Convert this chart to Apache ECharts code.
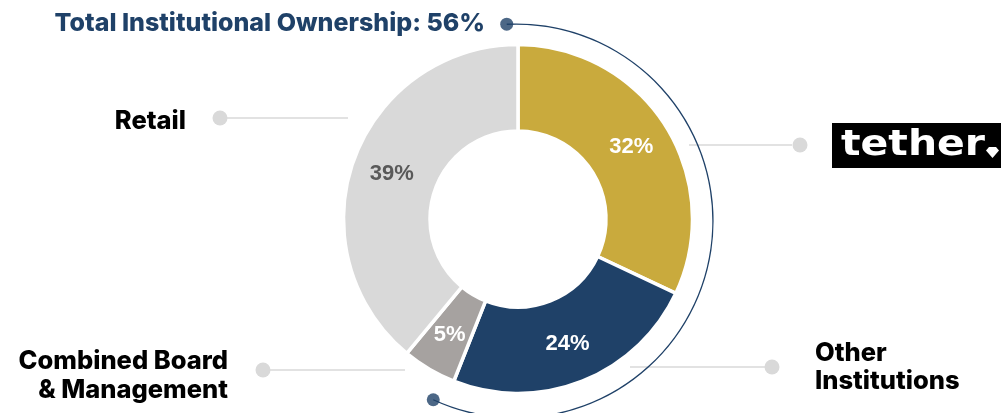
<!DOCTYPE html>
<html>
<head>
<meta charset="utf-8">
<script src="https://cdn.jsdelivr.net/npm/echarts@6/dist/echarts.min.js"></script>
<style>
  html, body { margin: 0; padding: 0; background: #ffffff; }
  #chart { width: 1001px; height: 413px; }
</style>
</head>
<body>
<div id="chart"></div>
<script>
// ---- data ----
const CATEGORIES = ['Tether', 'Other Institutions', 'Combined Board & Management', 'Retail'];
const VALUES = [32, 24, 5, 39];
const INSTITUTIONAL = ['Tether', 'Other Institutions'];
const TITLE_TEXT = 'Total Institutional Ownership';
const LOGO_TEXT = 'tether';
const LABEL_LINES = {
  'Other Institutions': 'Other\nInstitutions',
  'Combined Board & Management': 'Combined Board\n& Management',
  'Retail': 'Retail'
};

// ---- styles ----
const SLICE_COLORS = ['#C9AA3D', '#1F4168', '#A6A2A0', '#D9D9D9'];
const SLICE_LABEL_COLORS = ['#FFFFFF', '#FFFFFF', '#FFFFFF', '#595959'];
const NAVY = '#1F4168';
const LEADER = '#D9D9D9';
const NAME_FONT = 'Inter, "Liberation Sans", sans-serif';

const instTotal = CATEGORIES.reduce((s, c, i) => s + (INSTITUTIONAL.includes(c) ? VALUES[i] : 0), 0);
const total = VALUES.reduce((a, b) => a + b, 0);
const instPct = Math.round(instTotal / total * 100);

// arc extends a little beyond the institutional span to reach its end dots
const ARC_PAD_START = 0.75, ARC_PAD_END = 0.9;
const arcValue = instPct + ARC_PAD_START + ARC_PAD_END;

const chart = echarts.init(document.getElementById('chart'), null, { renderer: 'canvas' });

function leader(x1, x2, y, dotX) {
  return [
    { type: 'line', silent: true, shape: { x1: x1, y1: y, x2: x2, y2: y }, style: { stroke: LEADER, lineWidth: 1.5 } },
    { type: 'circle', silent: true, shape: { cx: dotX, cy: y, r: 7.5 }, style: { fill: LEADER } }
  ];
}

const graphics = [].concat(
  leader(227, 348, 118, 220),
  leader(689, 792, 145, 800),
  leader(630, 765, 367, 772),
  leader(270, 405, 370, 263),
  [
    { type: 'text', silent: true, x: 485, y: 23,
      style: { text: TITLE_TEXT + ': ' + instPct + '%', fill: NAVY, font: '800 25px ' + NAME_FONT, textAlign: 'right', textVerticalAlign: 'middle' } },
    { type: 'text', silent: true, x: 186, y: 121,
      style: { text: LABEL_LINES['Retail'], fill: '#000', font: '800 25.5px ' + NAME_FONT, textAlign: 'right', textVerticalAlign: 'middle' } },
    { type: 'text', silent: true, x: 228, y: 376,
      style: { text: LABEL_LINES['Combined Board & Management'], fill: '#000', font: '800 25.5px ' + NAME_FONT, lineHeight: 29, textAlign: 'right', textVerticalAlign: 'middle' } },
    { type: 'text', silent: true, x: 815, y: 367,
      style: { text: LABEL_LINES['Other Institutions'], fill: '#000', font: '800 25.5px ' + NAME_FONT, lineHeight: 28, textAlign: 'left', textVerticalAlign: 'middle' } },
    { type: 'rect', silent: true, shape: { x: 832, y: 123, width: 169, height: 45 }, style: { fill: '#000' } },
    { type: 'text', silent: true, x: 841, y: 146, scaleX: 1.17, scaleY: 1,
      style: { text: LOGO_TEXT, fill: '#fff', font: 'bold 35px "DejaVu Sans", sans-serif', textAlign: 'left', textVerticalAlign: 'middle' } },
    { type: 'polygon', silent: true, shape: { points: [[986, 150.5], [989, 147], [996, 147], [999, 150.5], [992.5, 158]] }, style: { fill: '#fff' } }
  ]
);

const option = {
  animation: false,
  backgroundColor: '#ffffff',
  polar: { center: [516, 221], radius: 197 },
  angleAxis: { type: 'value', min: 0, max: 100, startAngle: 90, clockwise: true, show: false },
  radiusAxis: { type: 'value', min: 0, max: 1, show: false },
  series: [
    {
      type: 'pie',
      center: [518, 219],
      radius: [88, 174.5],
      startAngle: 90,
      clockwise: true,
      silent: true,
      avoidLabelOverlap: false,
      itemStyle: { borderColor: '#ffffff', borderWidth: 3.5 },
      label: {
        show: true, position: 'inside', formatter: '{c}%',
        fontFamily: '"Liberation Sans", Arial, sans-serif', fontWeight: 'bold', fontSize: 22
      },
      labelLine: { show: false },
      emphasis: { disabled: true },
      data: CATEGORIES.map((c, i) => ({
        name: c, value: VALUES[i],
        itemStyle: { color: SLICE_COLORS[i] },
        label: { color: SLICE_LABEL_COLORS[i] }
      }))
    },
    {
      type: 'pie',
      center: [516, 221],
      radius: [196.3, 197.6],
      startAngle: 90 + ARC_PAD_START * 3.6,
      clockwise: true,
      silent: true,
      label: { show: false },
      labelLine: { show: false },
      emphasis: { disabled: true },
      data: [
        { name: 'inst', value: arcValue, itemStyle: { color: NAVY } },
        { name: 'rest', value: 100 - arcValue, itemStyle: { color: 'rgba(0,0,0,0)' } }
      ]
    },
    {
      type: 'scatter',
      coordinateSystem: 'polar',
      silent: true,
      symbol: 'circle',
      symbolSize: 13,
      itemStyle: { color: NAVY },
      data: [[1, 100 - ARC_PAD_START], [1, instPct + ARC_PAD_END]]
    }
  ],
  graphic: graphics
};

chart.setOption(option);
</script>
</body>
</html>
